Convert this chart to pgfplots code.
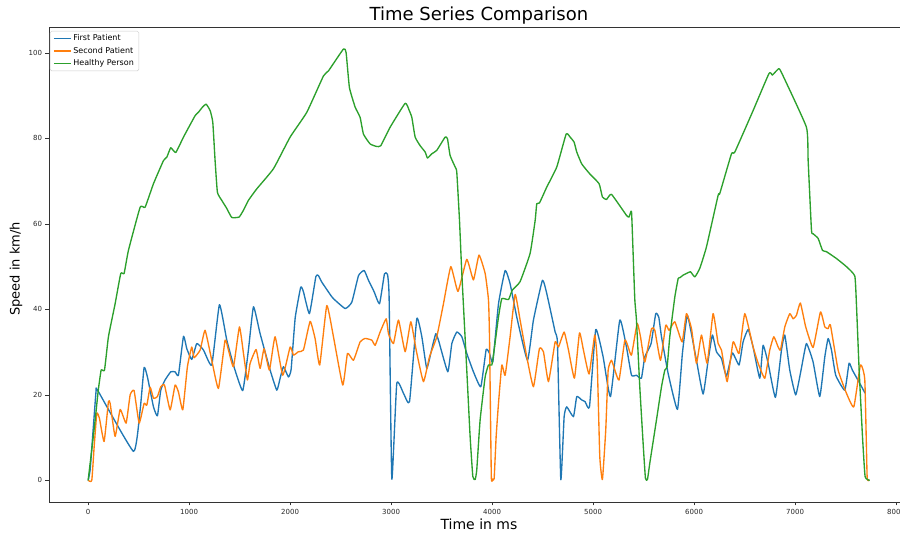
\documentclass[border=0pt]{standalone}
\usepackage{fontspec}
\setmainfont{DejaVu Sans}
\usepackage{pgfplots}
\pgfplotsset{compat=1.18}
\definecolor{mplblue}{HTML}{1F77B4}
\definecolor{mplorange}{HTML}{FF7F0E}
\definecolor{mplgreen}{HTML}{2CA02C}
\begin{document}
\begin{tikzpicture}[x=1pt,y=1pt]
\begin{axis}[
 at={(49pt,32pt)}, anchor=south west,
 scale only axis, width=861pt, height=475pt,
 xmin=-387.5, xmax=8137.5, ymin=-5.05, ymax=106.05,
 xtick={0,1000,...,8000}, ytick={0,20,...,100},
 xtick pos=bottom, ytick pos=left,
 tick align=outside, major tick length=3.5pt,
 tick style={black!80, line width=0.6pt},
 axis line style={black!80, line width=0.8pt},
 ticklabel style={font=\fontsize{7}{8}\selectfont, black!85},
 /pgf/number format/assume math mode=true,
 /pgf/number format/set thousands separator={},
 legend style={at={(axis description cs:0,1)}, anchor=north west, xshift=1pt, yshift=-4pt,
   draw=black!20, fill=white, rounded corners=1.5pt, font=\fontsize{8}{9}\selectfont,
   inner xsep=3pt, inner ysep=1.5pt, row sep=1pt},
 legend cell align=left,
 legend image code/.code={\draw[#1, sharp plot, line width=1.2pt] (0pt,0pt) -- (17pt,0pt);},
 every axis plot/.append style={line width=1.35pt, line join=round, smooth, tension=0.25},
]
\addplot[mplblue] coordinates {
(0,0) (20,2.5) (50,12) (79,21.0) (96,21.0) (449,6.8) (515,16.5) (554,26.4) (587,24.2) (647,17.2) (686,15.1) (719,21.1) (762,23.5) (818,25.4) (861,25.4) (894,24.6) (944,33.7) (977,30.8) (1026,28.3) (1076,32.0) (1142,30.5) (1224,27.0) (1300,41.1) (1373,32.8) (1449,26.2) (1531,21.0) (1587,30.5) (1637,40.6) (1703,34.3) (1802,25.8) (1868,21.1) (1901,23.9) (1934,26.6) (1983,24.2) (2010,26) (2050,38) (2105,45.2) (2132,44.1) (2191,39.0) (2255,47.7) (2280,47.9) (2313,46.4) (2396,43.5) (2429,42.5) (2545,40.2) (2611,41.7) (2677,47.9) (2733,49.1) (2776,46.8) (2832,44.1) (2885,41.3) (2934,48.3) (2964,48.2) (2980,42.9) (3007,0.3) (3056,22.7) (3122,20.4) (3182,18.4) (3254,37.8) (3304,33.6) (3353,26.2) (3403,30.8) (3442,34.3) (3469,32.8) (3561,25.4) (3601,32.0) (3650,34.7) (3700,33.6) (3749,29.7) (3815,25.4) (3888,21.9) (3941,30.6) (3974,29.7) (4007,27.7) (4063,41.3) (4129,49.1) (4178,46.0) (4244,38.2) (4350,28.1) (4409,37.5) (4498,46.8) (4541,43.7) (4624,34.7) (4647,32.0) (4680,0.2) (4713,14.9) (4739,17.2) (4805,14.9) (4838,19.6) (4888,18.8) (4921,18.4) (4964,17.2) (5026,35.3) (5099,28.9) (5172,19.6) (5264,37.5) (5330,31.2) (5380,24.6) (5429,24.6) (5478,23.9) (5512,28.9) (5574,32.0) (5620,39.0) (5650,38.2) (5677,33.6) (5743,25.0) (5835,16.6) (5884,29.7) (5931,38.6) (5967,35.1) (6023,28.1) (6089,20.2) (6139,28.1) (6181,34.0) (6221,30.1) (6271,28.5) (6320,24.4) (6379,29.8) (6445,27.0) (6485,32.4) (6535,35.3) (6584,31.2) (6650,23.9) (6683,31.6) (6733,27.4) (6805,19.4) (6865,30.5) (6898,34.0) (6947,25.8) (7006,20.0) (7062,26.2) (7112,32.0) (7178,27.7) (7244,19.6) (7294,28.9) (7327,33.2) (7360,30.5) (7402,24.6) (7492,21.1) (7534,27.4) (7567,25.8) (7640,22.7) (7693,20.4)
};
\addlegendentry{First Patient}
\addplot[mplorange] coordinates {
(0,0) (36,0) (60,8) (86,15.7) (112,14.5) (158,9.1) (201,18.4) (218,18.0) (267,10.3) (317,16.6) (376,13.4) (416,20.0) (455,21.0) (505,13.4) (554,18.0) (581,17.6) (614,21.8) (647,19.2) (686,19.6) (719,21.9) (756,22.3) (812,16.5) (861,22.3) (894,20.7) (937,16.5) (983,26.6) (1026,31.2) (1049,28.7) (1109,30.5) (1158,35.1) (1224,28.1) (1290,21.5) (1356,32.8) (1389,30.5) (1439,26.6) (1498,35.9) (1538,29.7) (1577,23.5) (1604,27.4) (1663,30.6) (1703,26.2) (1742,30.8) (1795,25.8) (1851,33.6) (1927,24.6) (2000,31.2) (2033,29.3) (2082,30.1) (2132,30.5) (2198,37.2) (2247,33.2) (2293,27.0) (2363,40.9) (2429,33.6) (2521,22.3) (2568,29.7) (2627,28.1) (2693,32.4) (2743,33.2) (2809,32.8) (2842,31.6) (2891,34.7) (2951,37.8) (2974,34.3) (3023,32.0) (3073,37.5) (3139,30.1) (3195,37.1) (3248,30.5) (3320,23.1) (3380,28.9) (3452,33.6) (3518,41.3) (3591,50.0) (3662,44.2) (3749,51.7) (3815,46.9) (3870,52.7) (3931,48.4) (3964,42.2) (3974,33.6) (3992,1.0) (4005,0.3) (4020,0.4) (4040,10.3) (4063,18.0) (4096,27.0) (4129,24.6) (4178,33.6) (4228,43.5) (4277,37.5) (4343,28.9) (4409,21.9) (4468,30.8) (4508,30.1) (4558,23.1) (4624,32.4) (4657,31.2) (4713,34.7) (4756,30.5) (4815,23.9) (4865,34.5) (4904,30.5) (4960,24.9) (5016,34.0) (5040,28.1) (5066,5.6) (5092,0.2) (5125,11.8) (5149,25.8) (5182,28.1) (5215,25.8) (5257,23.5) (5314,32.8) (5347,31.2) (5380,29.3) (5436,36.7) (5469,33.6) (5512,27.7) (5578,35.5) (5611,35.1) (5667,28.1) (5719,36.3) (5752,35.1) (5809,37.1) (5881,32.4) (5924,39.0) (5974,35.5) (6023,27.4) (6073,34.0) (6129,27.4) (6188,39.0) (6238,32.0) (6271,30.5) (6327,23.1) (6386,32.4) (6445,29.7) (6502,39.0) (6584,31.2) (6634,27.4) (6700,23.9) (6749,30.5) (6789,33.6) (6832,31.2) (6855,30.5) (6898,35.9) (6947,39.0) (6980,37.8) (7013,38.6) (7052,41.5) (7105,35.9) (7178,31.1) (7251,39.4) (7294,35.9) (7327,35.5) (7350,36.3) (7426,25.8) (7508,20.4) (7581,17.2) (7647,27.0) (7690,23.5) (7713,0.9) (7733,0.2)
};
\addlegendentry{Second Patient}
\addplot[mplgreen] coordinates {
(0,0) (40,8) (69,14) (100,21) (129,25.8) (162,25.8) (201,33.6) (267,41.3) (323,48.4) (356,48.4) (399,53.8) (515,63.9) (564,63.9) (647,69.4) (746,74.8) (779,75.6) (818,77.8) (868,76.7) (944,80.3) (1059,85.3) (1092,86.1) (1132,87.3) (1168,88.0) (1208,86.5) (1234,83.8) (1257,74.8) (1280,67.4) (1323,65.5) (1373,63.6) (1422,61.5) (1495,61.6) (1538,63.2) (1587,65.5) (1670,68.2) (1835,72.9) (2000,80.3) (2165,86.1) (2330,94.6) (2380,95.8) (2528,100.9) (2554,100.1) (2587,91.9) (2644,87.3) (2693,84.9) (2726,81.0) (2792,78.7) (2858,78.1) (2898,78.3) (2990,82.6) (3139,88.2) (3178,86.6) (3205,84.9) (3238,80.3) (3287,78.3) (3337,76.8) (3360,75.4) (3403,76.4) (3452,77.2) (3535,80.3) (3558,79.9) (3584,76.0) (3634,73.3) (3650,72.1) (3677,60.8) (3700,48.4) (3749,25.8) (3782,10.3) (3809,0.9) (3832,0.2) (3848,2.5) (3881,14.1) (3931,24.2) (3964,27.0) (3997,27.0) (4020,30.5) (4063,38.2) (4096,42.5) (4162,42.3) (4200,44.5) (4277,46.5) (4376,53.1) (4426,60.8) (4442,64.7) (4469,64.9) (4541,68.6) (4640,73.3) (4733,81.0) (4772,80.3) (4812,79.1) (4838,76.8) (4888,74.0) (4967,71.7) (5059,69.4) (5092,66.3) (5132,65.7) (5182,66.9) (5330,62.0) (5356,61.6) (5380,62.9) (5396,53.1) (5413,42.2) (5429,37.5) (5462,21.9) (5495,8.7) (5518,0.5) (5538,0.2) (5561,4.0) (5627,14.1) (5677,21.9) (5710,25.8) (5733,26.6) (5759,33.6) (5809,42.9) (5842,47.2) (5858,47.4) (5891,48.0) (5924,48.4) (5964,48.8) (6007,47.6) (6056,49.6) (6122,54.6) (6238,66.7) (6254,67.1) (6370,76.4) (6403,76.8) (6584,86.5) (6742,95.2) (6775,94.8) (6799,95.4) (6838,96.3) (6865,95.4) (7112,82.6) (7129,74.8) (7162,58.5) (7178,57.7) (7228,56.6) (7271,53.8) (7310,53.5) (7409,51.9) (7508,50.0) (7591,47.8) (7607,41.3) (7634,25.8) (7667,10.3) (7693,0.9) (7739,0)
};
\addlegendentry{Healthy Person}
\end{axis}
\node[font=\fontsize{18}{21}\selectfont] at (479pt,518pt) {Time Series Comparison};
\node[font=\fontsize{14}{16}\selectfont] at (479pt,10pt) {Time in ms};
\node[font=\fontsize{13}{15}\selectfont, rotate=90] at (16pt,265pt) {Speed in km/h};
\pgfresetboundingbox
\path (0pt,0pt) rectangle (900pt,534pt);
\end{tikzpicture}
\end{document}
